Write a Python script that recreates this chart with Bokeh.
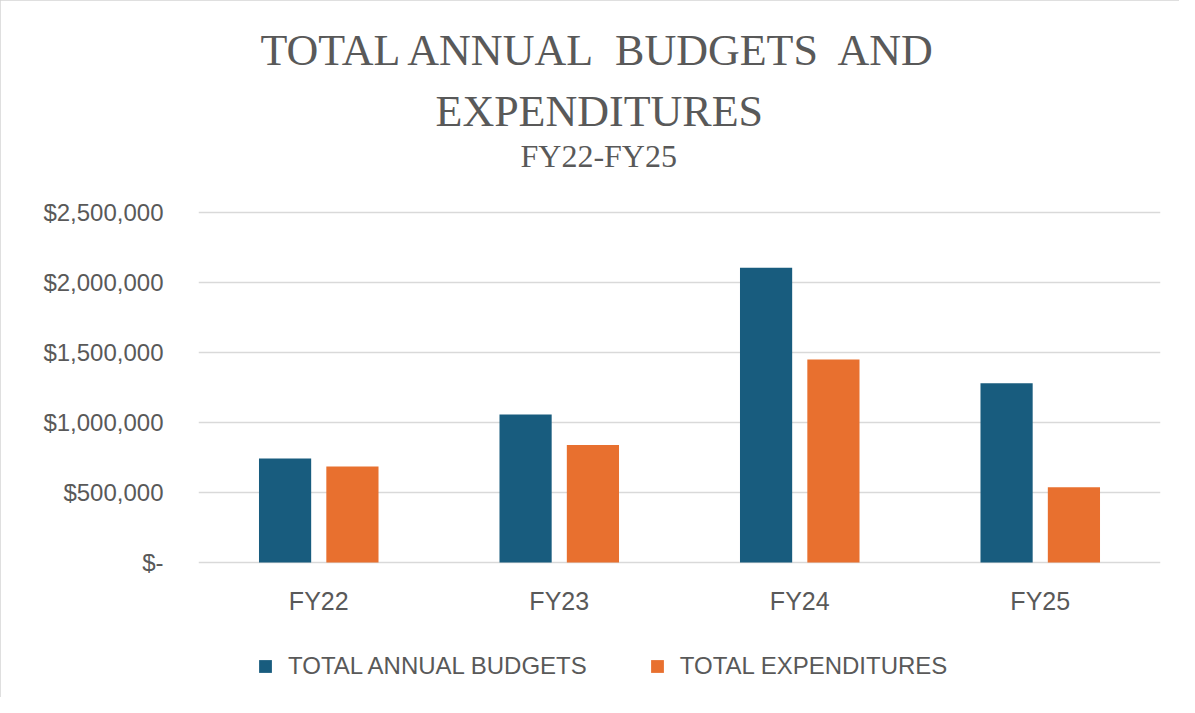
from bokeh.plotting import figure
from bokeh.models import (FactorRange, Range1d, Title, Legend, LegendItem,
                          FixedTicker, CustomJSTickFormatter)
from bokeh.core.properties import value
from bokeh.transform import dodge
from bokeh.embed import file_html
from bokeh.resources import INLINE

categories = ["FY22", "FY23", "FY24", "FY25"]
budgets = [742000, 1057000, 2105000, 1281000]
expenditures = [686000, 840000, 1450000, 538000]
y_ticks = [0, 500000, 1000000, 1500000, 2000000, 2500000]
series_names = ["TOTAL ANNUAL BUDGETS", "TOTAL EXPENDITURES"]
title_lines = ["TOTAL ANNUAL\u00a0 BUDGETS\u00a0 AND", "EXPENDITURES", "FY22-FY25"]

BLUE = "#185C7E"
ORANGE = "#E8702F"
GRAY = "#595959"
GRID = "#D9D9D9"

# layout in px: frame spans y=173..690; zero line at 562; $2.5M gridline at 212
W, H = 1179, 697
FRAME_TOP, FRAME_BOTTOM, ZERO_Y, GRID_TOP = 173, 690, 562, 212
PER_PX = 2500000 / (ZERO_Y - GRID_TOP)
y_end = (ZERO_Y - FRAME_TOP) * PER_PX
y_start = -(FRAME_BOTTOM - ZERO_Y) * PER_PX
label_y = -(600 - ZERO_Y) * PER_PX

p = figure(width=W, height=H, output_backend="svg", toolbar_location=None,
           x_range=FactorRange(*categories, range_padding=0),
           y_range=Range1d(y_start, y_end), x_axis_location=None,
           min_border_left=198, min_border_right=19,
           min_border_top=FRAME_TOP, min_border_bottom=H - FRAME_BOTTOM)
p.styles = {"outline": "1px solid #D4D4D4", "outline-offset": "-1px"}

data = dict(cat=categories, budget=budgets, exp=expenditures)
r1 = p.vbar(x=dodge("cat", -0.14, range=p.x_range), top="budget", width=0.217,
            source=data, color=BLUE, line_color=None)
r2 = p.vbar(x=dodge("cat", 0.14, range=p.x_range), top="exp", width=0.217,
            source=data, color=ORANGE, line_color=None)

# category labels under the zero line
p.text(x=categories, y=[label_y] * len(categories), text=categories,
       text_font=value("Liberation Sans"), text_font_size="25px",
       text_color=GRAY, text_align="center", text_baseline="middle")

# titles (first added is closest to plot); centred on the whole chart
p.add_layout(Title(text=title_lines[2], align="left", offset=322,
                   text_font="Liberation Serif",
                   text_font_size="32px", text_color=GRAY, text_font_style="normal",
                   standoff=0), "above")
p.add_layout(Title(text=title_lines[1], align="left", offset=237,
                   text_font="Liberation Serif",
                   text_font_size="44px", text_color=GRAY, text_font_style="normal",
                   standoff=0), "above")
p.add_layout(Title(text=title_lines[0], align="left", offset=62,
                   text_font="Liberation Serif",
                   text_font_size="44px", text_color=GRAY, text_font_style="normal",
                   standoff=19), "above")

p.outline_line_color = None
p.background_fill_color = "white"
p.border_fill_color = "white"

p.xgrid.grid_line_color = None
p.ygrid.grid_line_color = GRID
p.ygrid.grid_line_width = 1.5
p.ygrid.ticker = FixedTicker(ticks=y_ticks)

p.yaxis.ticker = FixedTicker(ticks=y_ticks)
p.yaxis.formatter = CustomJSTickFormatter(code="""
    if (tick == 0) return '$-';
    return '$' + tick.toLocaleString('en-US');
""")
p.yaxis.axis_line_color = None
p.yaxis.major_tick_line_color = None
p.yaxis.minor_tick_line_color = None
p.yaxis.major_tick_out = 0
p.yaxis.major_tick_in = 0
p.yaxis.major_label_text_font = "Liberation Sans"
p.yaxis.major_label_text_font_size = "24px"
p.yaxis.major_label_text_color = GRAY
p.yaxis.major_label_standoff = 35

legend = Legend(items=[LegendItem(label=series_names[0], renderers=[r1]),
                       LegendItem(label=series_names[1], renderers=[r2])],
                orientation="horizontal", location=(59, 10),
                label_text_font="Liberation Sans", label_text_font_size="24px",
                label_text_color=GRAY, glyph_width=16, glyph_height=16,
                label_height=28, label_standoff=15, spacing=62,
                padding=0, margin=0, border_line_color=None,
                background_fill_alpha=0)
p.add_layout(legend, "center")

open("out.html", "w").write(file_html(p, INLINE))
